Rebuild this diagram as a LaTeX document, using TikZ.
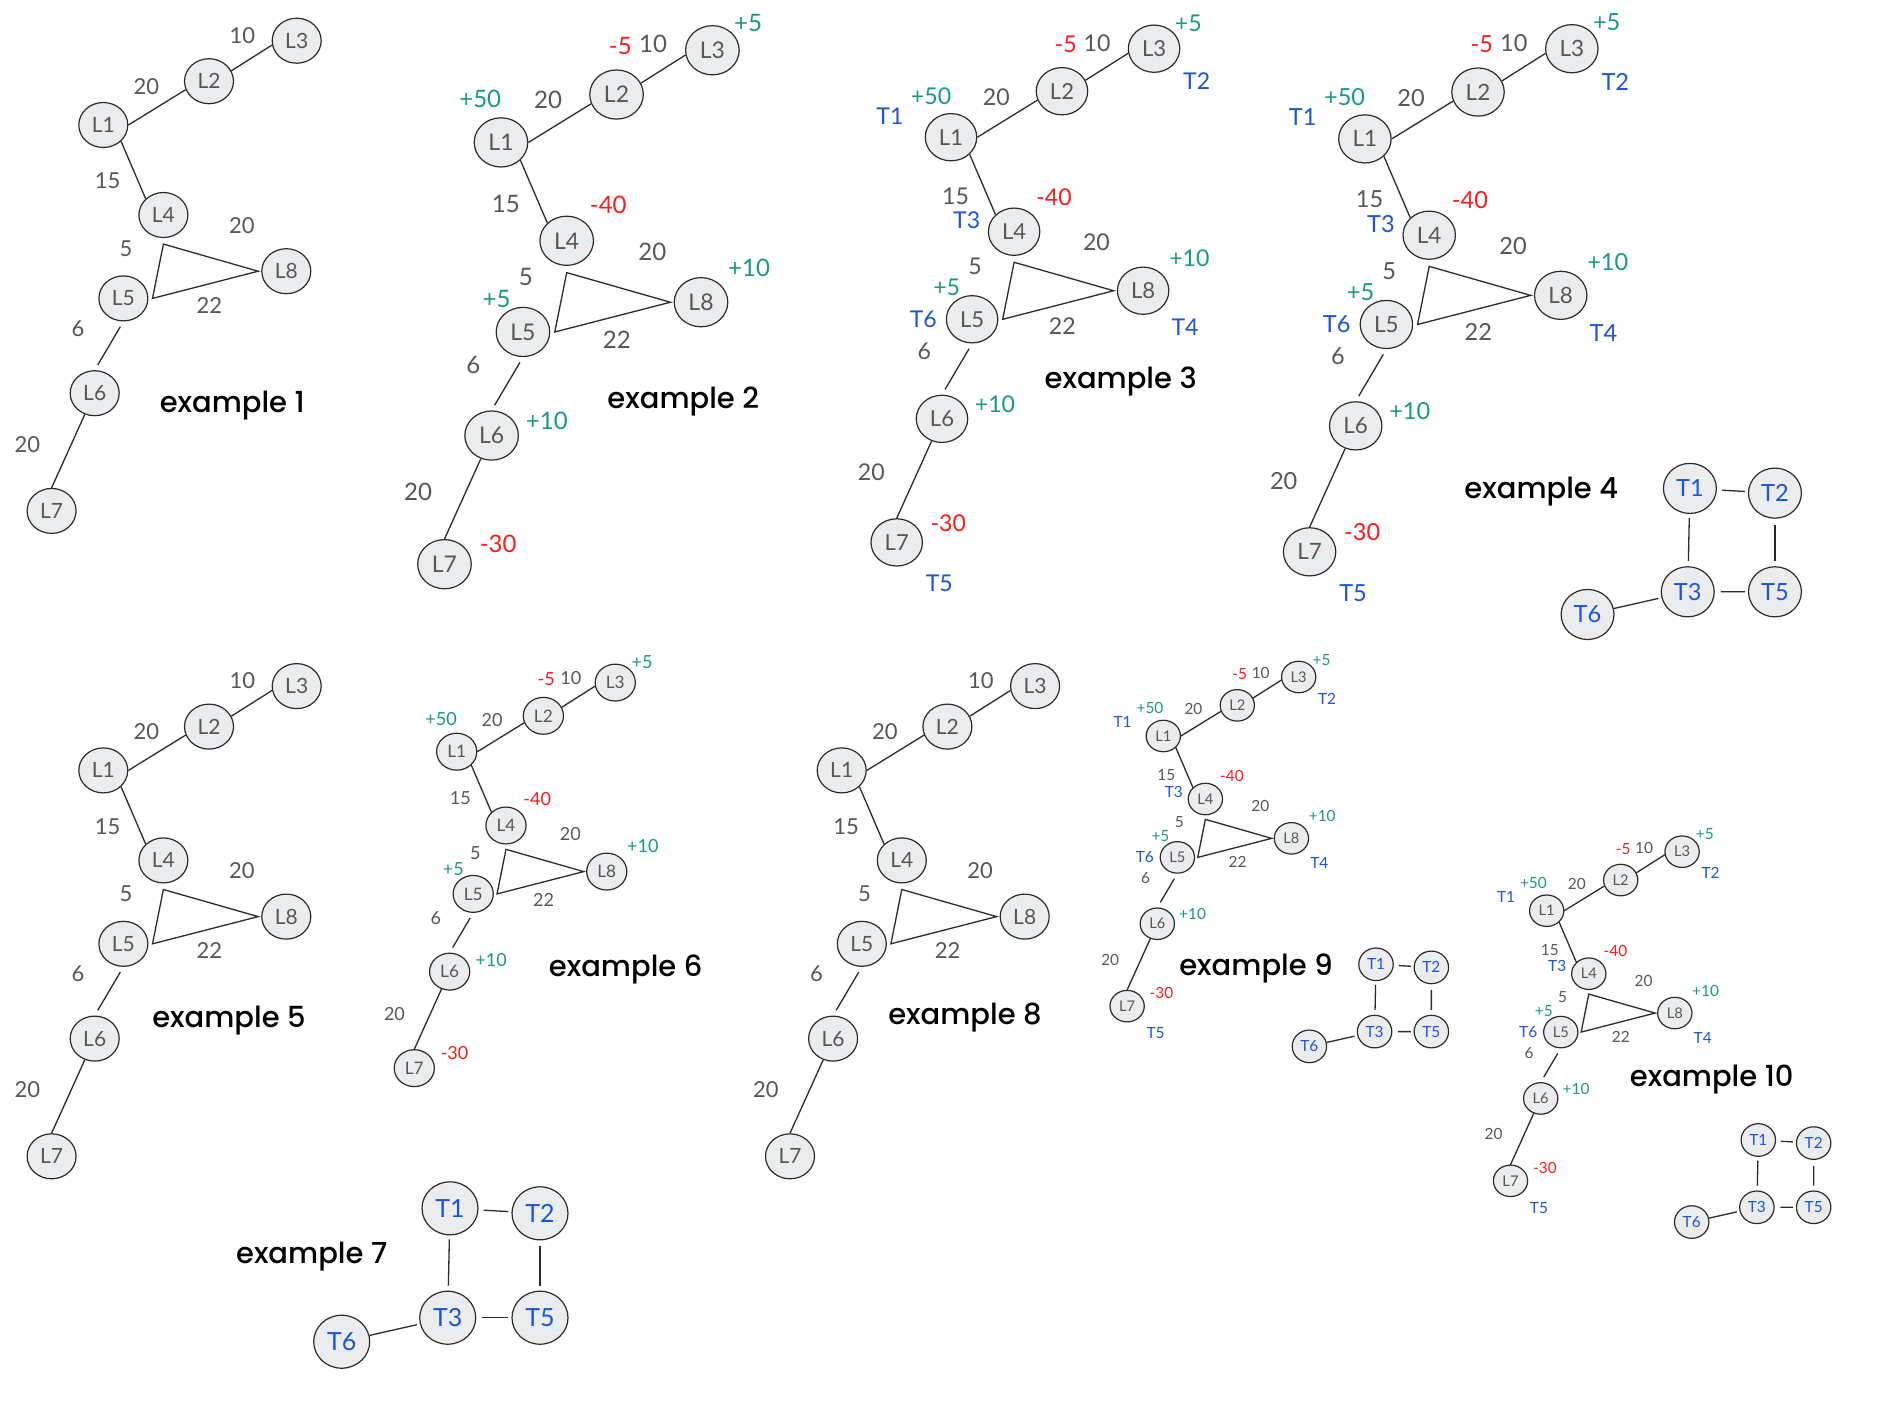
\documentclass[tikz,border=0pt]{standalone}
\usepackage{fontspec}
\usetikzlibrary{shapes.geometric}
\newfontfamily\lato{Lato}
\IfFontExistsTF{Poppins Medium}
  {\newfontfamily\titlefont{Poppins Medium}}
  {\newfontfamily\titlefont{Poppins}[FakeBold=1.2]}

\definecolor{nodefill}{HTML}{EAECEE}
\definecolor{nodeline}{HTML}{2B2B2B}
\definecolor{labelgray}{HTML}{575757}
\definecolor{upgreen}{HTML}{179A84}
\definecolor{downred}{HTML}{FF1A1A}
\definecolor{taskblue}{HTML}{1C55D8}

\tikzset{
  lnode/.style={ellipse, draw=nodeline, line width=1.2pt, fill=nodefill, text=labelgray,
    inner sep=0pt, minimum width=49pt, minimum height=45pt, font=\lato\fontsize{21}{24}\selectfont},
  tnode/.style={lnode, text=taskblue, minimum width=56pt, minimum height=53pt,
    font=\lato\fontsize{25}{28}\selectfont},
  link/.style={draw=nodeline, line width=1.3pt},
  wt/.style={text=labelgray, inner sep=0pt, font=\lato\fontsize{22}{24}\selectfont},
  gain/.style={wt, text=upgreen},
  loss/.style={wt, text=downred},
  task/.style={wt, text=taskblue},
  extitle/.style={inner sep=0pt, font=\titlefont\fontsize{29}{32}\selectfont}
}

% the L graph with its weights, L1 at the origin
\newcommand{\lgraph}[1]{%
  \node[lnode] (#1L1) at (0,0) {L1};
  \node[lnode] (#1L2) at (105.7,-43.8) {L2};
  \node[lnode] (#1L3) at (193.4,-84.3) {L3};
  \node[lnode] (#1L4) at (60.1,90) {L4};
  \node[lnode] (#1L5) at (20.1,173.4) {L5};
  \node[lnode] (#1L6) at (-8.6,268.2) {L6};
  \node[lnode] (#1L7) at (-51.7,385.9) {L7};
  \node[lnode] (#1L8) at (183,146.2) {L8};
  \draw[link] (#1L1.east) -- (#1L2.200);
  \draw[link] (#1L2.25) -- (#1L3.190);
  \draw[link] (#1L1.south east) -- (#1L4.north west);
  \draw[link, shorten <=6pt, shorten >=6pt] (#1L5.south) -- (#1L6.north);
  \draw[link] (#1L6.245) -- (#1L7.north);
  \draw[link] ([yshift=-6pt]#1L4.south) -- ([xshift=4pt]#1L5.east) -- ([xshift=-3pt]#1L8.west) -- cycle;
  \node[wt] (#1w23) at (139.1,-89.8) {10};
  \node[wt] (#1w12) at (43.1,-38.5) {20};
  \node[wt] (#1w14) at (4.4,56) {15};
  \node[wt] (#1w48) at (138.5,100.2) {20};
  \node[wt] (#1w45) at (22.8,123.3) {5};
  \node[wt] (#1w58) at (106,180.2) {22};
  \node[wt] (#1w56) at (-25.3,203.5) {6};
  \node[wt] (#1w67) at (-75.9,319.4) {20};
}

% gains and losses next to the L nodes
\newcommand{\lchanges}[1]{%
  \node[gain] (#1c3) at (226,-108.9) {+5};
  \node[loss] (#1c2) at (109.2,-88.5) {-5};
  \node[gain] (#1c1) at (-19,-39.5) {+50};
  \node[loss] (#1c4) at (98.1,57.6) {-40};
  \node[gain] (#1c8) at (227,114.9) {+10};
  \node[gain] (#1c5) at (-4.1,143.1) {+5};
  \node[gain] (#1c6) at (41.9,254.6) {+10};
  \node[loss] (#1c7) at (-2.6,367.5) {-30};
}

% T labels next to the L nodes
\newcommand{\ltasks}[1]{%
  \node[task] (#1t1) at (-58.1,-20.3) {T1};
  \node[task] (#1t2) at (234,-53.4) {T2};
  \node[task] (#1t3) at (15,79.4) {T3};
  \node[task] (#1t4) at (222.9,181.1) {T4};
  \node[task] (#1t5) at (-11.1,424.8) {T5};
  \node[task] (#1t6) at (-26.4,173.2) {T6};
}

% the T graph, T1 at the origin
\newcommand{\tgraph}[1]{%
  \node[tnode] (#1T1) at (0,0) {T1};
  \node[tnode] (#1T2) at (90,5) {T2};
  \node[tnode] (#1T3) at (-2.3,109.4) {T3};
  \node[tnode] (#1T5) at (90,109.4) {T5};
  \node[tnode] (#1T6) at (-108.3,133.4) {T6};
  \draw[link, shorten <=5pt, shorten >=3pt] (#1T1) -- (#1T2);
  \draw[link, shorten <=4pt, shorten >=5pt] (#1T1) -- (#1T3);
  \draw[link, shorten <=6pt, shorten >=5pt] (#1T2) -- (#1T5);
  \draw[link, shorten <=6pt, shorten >=3pt] (#1T3) -- (#1T5);
  \draw[link, shorten >=3pt] (#1T6) -- (#1T3);
}

\begin{document}
\begin{tikzpicture}[x=1pt, y=-1pt]
\useasboundingbox (0,0) rectangle (1890,1417);
\fill[white] (0,0) rectangle (1890,1417);

% example 1
\begin{scope}[shift={(103.3,125)}, transform shape]
  \lgraph{a}
\end{scope}
\node[extitle] (exa) at (232.3,405.4) {example 1};

% example 2
\begin{scope}[shift={(501,142.4)}, scale=1.093, transform shape]
  \lgraph{b}
  \lchanges{b}
\end{scope}
\node[extitle] (exb) at (683.3,401.1) {example 2};

% example 3
\begin{scope}[shift={(951,137.2)}, scale=1.05, transform shape]
  \lgraph{c}
  \lchanges{c}
  \ltasks{c}
\end{scope}
\node[extitle] (exc) at (1120.7,381.6) {example 3};

% example 4
\begin{scope}[shift={(1364.9,138.9)}, scale=1.07, transform shape]
  \lgraph{d}
  \lchanges{d}
  \ltasks{d}
\end{scope}
\begin{scope}[shift={(1689.9,488.4)}, scale=0.945, transform shape]
  \tgraph{d}
\end{scope}
\node[extitle] (exd) at (1541.3,491.3) {example 4};

% example 5
\begin{scope}[shift={(103.3,770.4)}, transform shape]
  \lgraph{e}
\end{scope}
\node[extitle] (exe) at (229,1020.4) {example 5};

% example 6
\begin{scope}[shift={(456.7,751.7)}, scale=0.82, transform shape]
  \lgraph{f}
  \lchanges{f}
\end{scope}
\node[extitle] (exf) at (625.7,969.3) {example 6};

% example 7
\begin{scope}[shift={(450,1208.3)}, transform shape]
  \tgraph{g}
\end{scope}
\node[extitle] (exg) at (311.7,1256.7) {example 7};

% example 8
\begin{scope}[shift={(841.7,770.4)}, transform shape]
  \lgraph{h}
\end{scope}
\node[extitle] (exh) at (965,1017.9) {example 8};

% example 9
\begin{scope}[shift={(1163.3,736)}, scale=0.7, transform shape]
  \lgraph{i}
  \lchanges{i}
  \ltasks{i}
\end{scope}
\begin{scope}[shift={(1376,964.3)}, scale=0.615, transform shape]
  \tgraph{i}
\end{scope}
\node[extitle] (exi) at (1256,968.3) {example 9};

% example 10
\begin{scope}[shift={(1546.7,910.7)}, scale=0.7, transform shape]
  \lgraph{j}
  \lchanges{j}
  \ltasks{j}
\end{scope}
\begin{scope}[shift={(1758.3,1140)}, scale=0.615, transform shape]
  \tgraph{j}
\end{scope}
\node[extitle] (exj) at (1711.7,1080) {example 10};
\end{tikzpicture}
\end{document}
